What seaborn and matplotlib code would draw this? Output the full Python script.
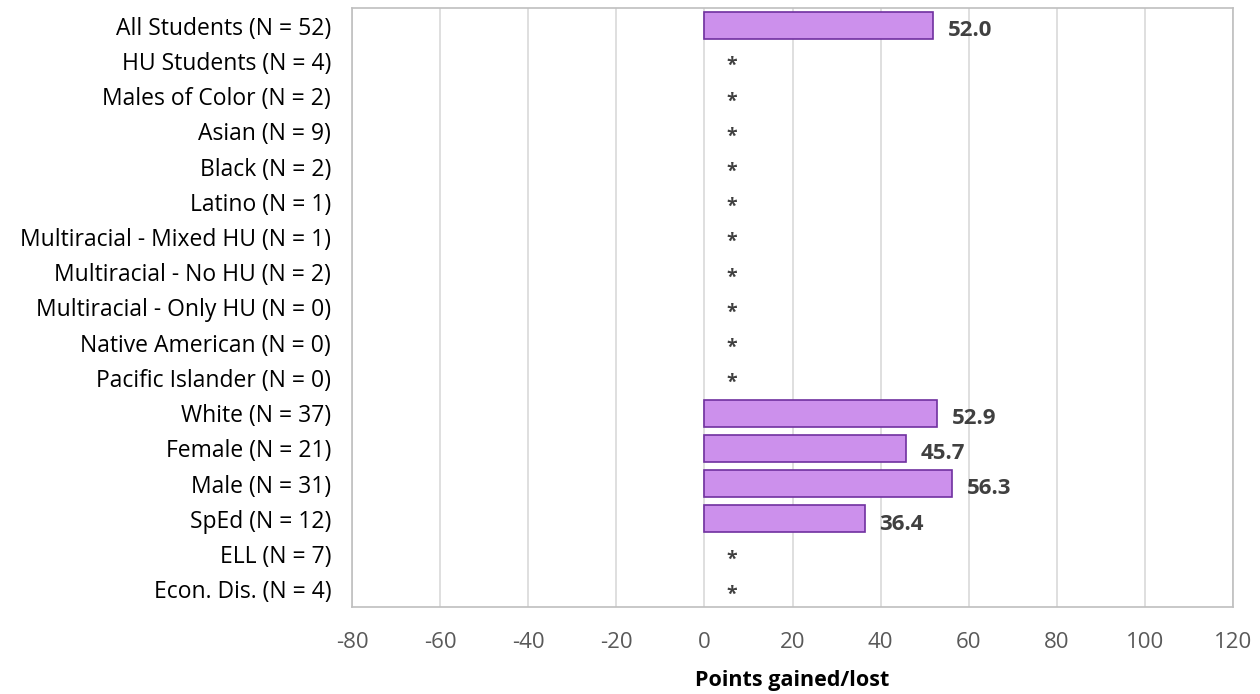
import matplotlib
matplotlib.use("Agg")
import matplotlib.pyplot as plt
import seaborn as sns
import pandas as pd
import numpy as np

categories = ["All Students (N = 52)", "HU Students (N = 4)", "Males of Color (N = 2)",
              "Asian (N = 9)", "Black (N = 2)", "Latino (N = 1)",
              "Multiracial - Mixed HU (N = 1)", "Multiracial - No HU (N = 2)",
              "Multiracial - Only HU (N = 0)", "Native American (N = 0)",
              "Pacific Islander (N = 0)", "White (N = 37)", "Female (N = 21)",
              "Male (N = 31)", "SpEd (N = 12)", "ELL (N = 7)", "Econ. Dis. (N = 4)"]
values = [52.0, None, None, None, None, None, None, None, None, None, None,
          52.9, 45.7, 56.3, 36.4, None, None]
xticks = [-80, -60, -40, -20, 0, 20, 40, 60, 80, 100, 120]

sns.set_theme(style="white")
plt.rcParams['font.family'] = ['Open Sans', 'DejaVu Sans']

df = pd.DataFrame({"cat": categories, "val": values}).dropna()

fig = plt.figure(figsize=(12.6, 6.94), dpi=100)
ax = fig.add_axes([352/1260, 1 - 607/694, (1233-352)/1260, (607-8)/694])

sns.barplot(data=df, x="val", y="cat", order=categories, orient="h",
            color="#CC90EC", edgecolor="#7030A0", linewidth=1.2, width=0.77,
            saturation=1, ax=ax, zorder=3)

for i, v in enumerate(values):
    if v is None:
        ax.text(6.2, i + 0.15, "*", ha="center", va="center", fontsize=14,
                fontweight="bold", color="#404040", zorder=4)
    else:
        ax.text(v + 3.3, i + 0.15, f"{v:.1f}", ha="left", va="center", fontsize=16,
                fontweight="bold", color="#404040", zorder=4)

ax.set_xlim(-80, 120)
ax.set_xticks(xticks)
ax.set_xticklabels([str(t) for t in xticks], fontsize=16, color="#595959")
ax.set_ylim(len(categories) - 0.5, -0.5)
ax.tick_params(axis="y", labelsize=16.5, labelcolor="#000000", length=0, pad=15)
ax.tick_params(axis="x", length=0, pad=18)
ax.grid(axis="x", color="#D9D9D9", linewidth=1.2, zorder=0)
ax.set_axisbelow(True)
for s in ax.spines.values():
    s.set_color("#BFBFBF")
    s.set_linewidth(1.2)
ax.set_ylabel("")
ax.set_xlabel("Points gained/lost", fontsize=15.5, fontweight="bold", color="#000000", labelpad=12)

fig.savefig("out.png", dpi=100)
